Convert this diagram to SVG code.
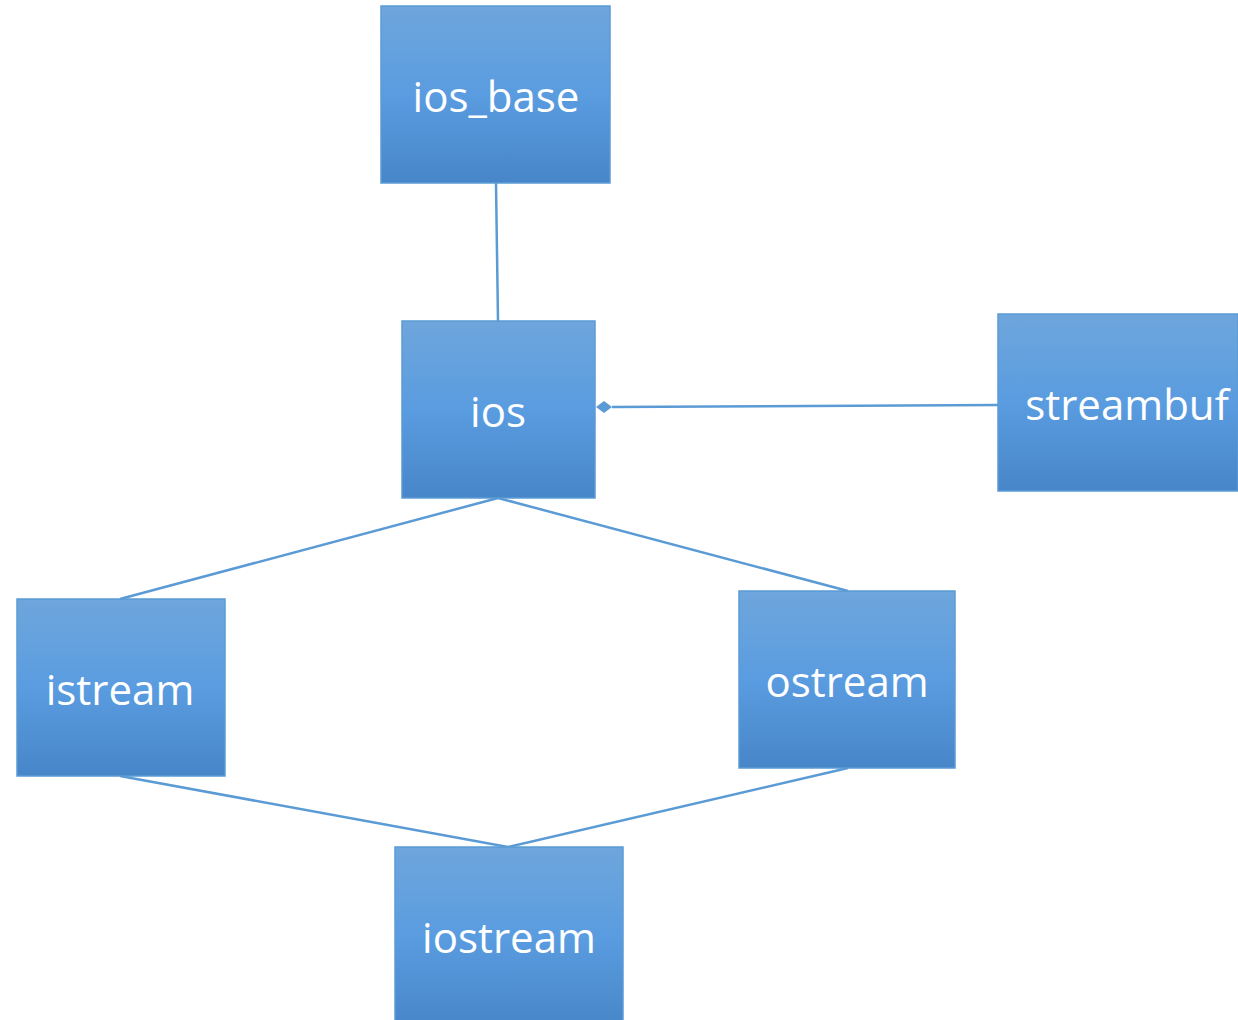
<svg xmlns="http://www.w3.org/2000/svg" width="1238" height="1020" viewBox="0 0 1238 1020">
<defs>
<linearGradient id="g" x1="0" y1="0" x2="0" y2="1">
<stop offset="0" stop-color="#6ea6dc"/>
<stop offset="0.5" stop-color="#5a9ce0"/>
<stop offset="1" stop-color="#4786c8"/>
</linearGradient>
<style>
.box{fill:url(#g);stroke:#5b9bd5;stroke-width:1.5}
.lbl{font-family:"Open Sans","Noto Sans","Liberation Sans",sans-serif;font-size:42px;fill:#ffffff;text-anchor:middle}
.con{stroke:#5b9bd5;stroke-width:2.5;fill:none}
</style>
</defs>
<rect width="1238" height="1020" fill="#ffffff"/>
<g id="connectors">
<line class="con" x1="496" y1="183" x2="498" y2="321"/>
<path class="con" d="M998,405 L612,407"/>
<path d="M596,407 L604,401 L612,407 L604,413 Z" fill="#5b9bd5"/>
<line class="con" x1="498" y1="498" x2="120" y2="599"/>
<line class="con" x1="498" y1="498" x2="848" y2="591"/>
<line class="con" x1="120" y1="776" x2="508" y2="847"/>
<line class="con" x1="848" y1="768" x2="508" y2="847"/>
</g>
<g id="ios_base"><rect class="box" x="381" y="6" width="229" height="177"/><text class="lbl" x="496" y="112">ios_base</text></g>
<g id="ios"><rect class="box" x="402" y="321" width="193" height="177"/><text class="lbl" x="498" y="427">ios</text></g>
<g id="streambuf"><rect class="box" x="998" y="314" width="240" height="177"/><text class="lbl" x="1127" y="420">streambuf</text></g>
<g id="istream"><rect class="box" x="17" y="599" width="208" height="177"/><text class="lbl" x="120" y="705">istream</text></g>
<g id="ostream"><rect class="box" x="739" y="591" width="216" height="177"/><text class="lbl" x="847" y="697">ostream</text></g>
<g id="iostream"><rect class="box" x="395" y="847" width="228" height="180"/><text class="lbl" x="509" y="953">iostream</text></g>
</svg>
